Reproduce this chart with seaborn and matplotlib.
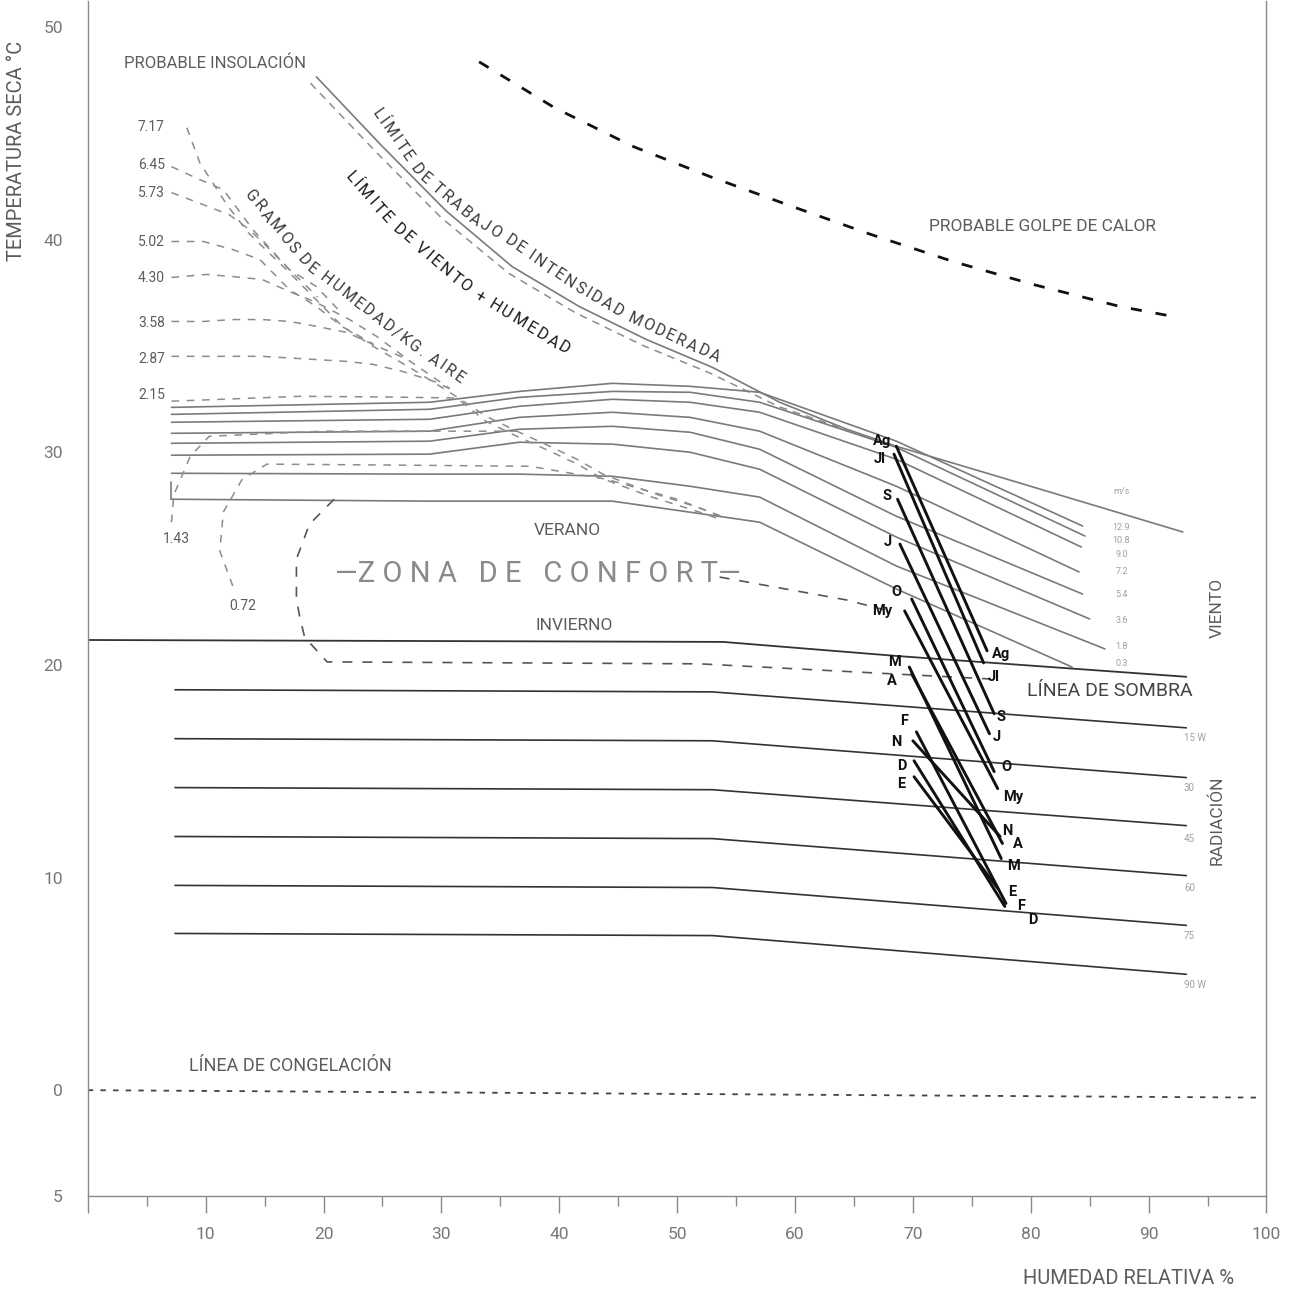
import numpy as np
import matplotlib
matplotlib.use("Agg")
import matplotlib.pyplot as plt
import seaborn as sns
from matplotlib.font_manager import FontProperties
from matplotlib.textpath import TextToPath

# ---------------- data ----------------
# heat stroke limit
golpe_x = [33.2, 39.6, 46.3, 52.8, 59.8, 66.5, 73.4, 80.2, 87.6, 92.5]
golpe_y = [48.36, 46.20, 44.37, 42.96, 41.55, 40.23, 38.97, 37.89, 36.85, 36.34]

# moderate work limit
trabajo_x = [19.4, 24.8, 30.4, 36.0, 41.7, 47.4, 53.0, 58.7, 64.4, 68.6, 77.4, 92.9]
trabajo_y = [47.65, 44.49, 41.35, 38.73, 36.85, 35.30, 33.99, 32.35, 31.08, 30.28, 28.83, 26.25]
trabajo2_x = [18.9, 24.4, 30.0, 35.7, 41.4, 47.1, 52.8, 58.6, 64.4]
trabajo2_y = [47.35, 44.15, 41.02, 38.42, 36.55, 35.02, 33.72, 32.15, 31.05]

# wind lines (m/s)
wind_labels = ["12.9", "10.8", "9.0", "7.2", "5.4", "3.6", "1.8", "0.3"]
wind_x = [7.1, 29.0, 36.6, 44.5, 51.1, 57.0, 68.6]
wind_end_x = [84.4, 84.6, 84.3, 84.1, 84.4, 85.0, 86.3, 83.5]
wind_t = [
    [32.11, 32.35, 32.86, 33.24, 33.10, 32.82, 30.52, 26.53],
    [31.78, 32.02, 32.58, 32.86, 32.82, 32.35, 30.23, 26.06],
    [31.41, 31.55, 32.16, 32.49, 32.35, 31.88, 29.67, 25.54],
    [30.89, 30.99, 31.64, 31.88, 31.64, 30.99, 28.40, 24.37],
    [30.42, 30.52, 31.08, 31.22, 30.94, 30.14, 26.99, 23.33],
    [29.86, 29.91, 30.47, 30.38, 30.00, 29.20, 26.01, 22.16],
    [29.01, 28.97, 28.97, 28.87, 28.40, 27.89, 24.65, 20.75],
    [27.79, 27.70, 27.70, 27.70, 27.18, 26.71, 23.57, 19.90],
]
wind_label_y = [26.48, 25.87, 25.21, 24.37, 23.33, 22.11, 20.85, 20.05]

# radiation lines (W)
rad_labels = ["15 W", "30", "45", "60", "75", "90 W"]
rad_x = [7.4, 53.0, 93.2]
rad_left = [18.83, 16.53, 14.23, 11.93, 9.63, 7.37]
rad_right = [17.04, 14.70, 12.44, 10.09, 7.75, 5.45]
rad_label_y = [16.57, 14.23, 11.83, 9.53, 7.23, 4.93]

# shade line
sombra_x = [0.0, 53.9, 68.6, 93.2]
sombra_y = [21.17, 21.08, 20.42, 19.44]

# freezing line
congel_x = [0.0, 99.7]
congel_y = [0.0, -0.35]

# grams of moisture per kg of air
gramos_labels = ["7.17", "6.45", "5.73", "5.02", "4.30", "3.58", "2.87", "2.15"]
gramos_label_y = [45.3, 43.5, 42.2, 39.9, 38.2, 36.1, 34.4, 32.7]
g717_x = [8.4, 9.5, 11.8, 13.6, 17.1, 21.6, 24.2, 27.3, 30.7, 33.8, 36.4, 39.2, 41.5, 43.7, 47.7, 51.7, 53.9]
g717_y = [45.26, 43.62, 41.64, 40.33, 38.45, 35.92, 34.98, 33.99, 32.82, 31.69, 30.99, 30.28, 29.67, 28.97, 28.12, 27.42, 26.95]
g645_x = [7.1, 9.5, 11.5, 14.0, 17.1, 19.5]
g645_y = [43.43, 42.82, 42.35, 40.47, 38.59, 37.3]
g573_x = [7.1, 9.8, 12.0, 13.7, 15.2, 17.1, 19.4, 21.6]
g573_y = [42.21, 41.64, 41.17, 40.47, 39.67, 38.59, 37.79, 36.5]
g502_x = [7.1, 9.8, 12.3, 14.6, 17.1, 19.4, 21.6, 24.2]
g502_y = [39.91, 39.91, 39.53, 39.06, 37.65, 36.85, 35.9, 35.1]
g430_x = [7.1, 10.1, 12.3, 14.8, 17.1, 19.4, 22.2, 24.5, 27.3]
g430_y = [38.22, 38.36, 38.26, 38.12, 37.56, 37.04, 36.24, 35.45, 34.3]
g358_x = [7.1, 9.8, 12.3, 14.8, 17.1, 19.4, 22.0, 24.2, 27.1, 30.7]
g358_y = [36.15, 36.15, 36.24, 36.24, 36.15, 35.92, 35.63, 35.07, 34.37, 33.0]
g287_x = [7.1, 14.8, 22.0, 24.2, 26.7, 29.6, 31.0]
g287_y = [34.51, 34.51, 34.27, 34.13, 33.80, 33.29, 32.9]
g215_x = [7.1, 18.0, 25.0, 31.3, 33.8, 36.4, 39.2, 41.5, 43.7, 47.7, 51.7, 53.9]
g215_y = [32.40, 32.63, 32.60, 32.55, 31.45, 30.75, 30.05, 29.45, 28.75, 27.92, 27.22, 26.80]
g143_x = [7.1, 7.3, 8.7, 10.3, 20.0, 30.0, 36.4]
g143_y = [26.71, 28.0, 29.81, 30.75, 30.99, 30.99, 30.99]
g072_x = [12.3, 11.2, 11.5, 13.1, 15.2, 25.0, 37.5, 44.0, 50.0, 53.9]
g072_y = [23.71, 25.35, 27.19, 28.73, 29.44, 29.40, 29.34, 28.73, 27.79, 26.95]

# comfort zone dashed outline
confort_x = [20.9, 18.8, 17.7, 17.7, 18.0, 18.4, 20.3, 51.9, 76.5]
confort_y = [27.79, 26.61, 24.97, 23.10, 22.2, 21.3, 20.14, 20.05, 19.34]
confort2_x = [53.6, 64.4, 67.5]
confort2_y = [24.13, 23.05, 22.6]

# monthly climate lines
meses = ["Ag", "Jl", "S", "J", "O", "My", "M", "A", "F", "N", "D", "E"]
mes_x0 = [68.6, 68.4, 68.7, 68.9, 69.9, 69.3, 69.7, 69.9, 70.3, 70.0, 70.1, 70.1]
mes_y0 = [30.28, 29.91, 27.79, 25.68, 23.10, 22.54, 19.90, 19.58, 16.85, 16.43, 15.49, 14.74]
mes_x1 = [76.3, 76.0, 76.9, 76.5, 76.9, 77.2, 77.5, 77.6, 77.9, 77.4, 77.8, 77.2]
mes_y1 = [20.66, 20.09, 17.70, 16.76, 14.98, 14.18, 10.89, 11.60, 8.78, 11.93, 8.64, 9.49]
mes_lab0_x = [67.4, 67.2, 67.8, 67.9, 68.6, 67.4, 68.4, 68.2, 69.3, 68.6, 69.1, 69.0]
mes_lab0_y = [30.52, 29.67, 27.93, 25.77, 23.43, 22.54, 20.14, 19.25, 17.37, 16.39, 15.26, 14.41]
mes_lab1 = ["Ag", "Jl", "S", "J", "O", "My", "N", "A", "M", "E", "F", "D"]
mes_lab1_x = [77.5, 76.9, 77.5, 77.1, 77.9, 78.5, 78.0, 78.9, 78.5, 78.4, 79.2, 80.2]
mes_lab1_y = [20.52, 19.44, 17.56, 16.62, 15.21, 13.80, 12.21, 11.60, 10.52, 9.34, 8.64, 7.98]

# curved label baselines
trabajo_txt_x = [24.6, 28.2, 32.4, 35.8, 40.5, 45.4, 53.4]
trabajo_txt_y = [46.01, 43.19, 41.17, 40.0, 38.22, 36.57, 34.51]
viento_txt_x = [22.4, 26.2, 29.9, 33.1, 36.6, 40.5]
viento_txt_y = [42.96, 40.61, 38.83, 37.42, 36.24, 34.93]
gramos_txt_x = [14.0, 18.8, 28.2, 31.4]
gramos_txt_y = [42.02, 38.83, 34.84, 33.62]

x_ticks = [0, 10, 20, 30, 40, 50, 60, 70, 80, 90, 100]
x_ticklabels = ["", "10", "20", "30", "40", "50", "60", "70", "80", "90", "100"]
y_ticks = [-5, 0, 10, 20, 30, 40, 50]
y_ticklabels = ["5", "0", "10", "20", "30", "40", "50"]

# ---------------- drawing ----------------
sns.set_theme(style="white")
FONT = ["Roboto", "DejaVu Sans"]
plt.rcParams["font.family"] = FONT

GRAY = "#7a7a7a"
LGRAY = "#8c8c8c"
TXT = "#5c5c5c"
DARK = "#333333"

fig = plt.figure(figsize=(12.91, 12.91), dpi=100)
ax = fig.add_axes([0.068, 0.0732, 0.913, 0.9257])
ax.set_xlim(0, 100)
ax.set_ylim(-5, 51.2)


def draw(x, y, color=GRAY, lw=1.2, ls="-"):
    sns.lineplot(x=x, y=y, sort=False, estimator=None, color=color,
                 linewidth=lw, linestyle=ls, ax=ax, legend=False)


def text_on_path(s, px, py, size, color, family=FONT, weight="normal"):
    # lay the characters one by one along a polyline
    fp = FontProperties(family=family, size=size, weight=weight)
    ttp = TextToPath()
    k = fig.dpi / 72.0
    widths = []
    for c in s:
        if c == " ":
            widths.append(0.30 * size * k)
        else:
            widths.append(ttp.get_text_width_height_descent(c, fp, ismath=False)[0] * k
                          + 0.13 * size * k)
    pts = ax.transData.transform(np.column_stack([px, py]))
    seg = np.diff(pts, axis=0)
    seglen = np.hypot(seg[:, 0], seg[:, 1])
    cum = np.concatenate([[0], np.cumsum(seglen)])
    pos = (cum[-1] - sum(widths)) / 2
    inv = ax.transData.inverted()
    for c, w in zip(s, widths):
        d = pos + w / 2
        i = int(np.clip(np.searchsorted(cum, d, side="right") - 1, 0, len(seg) - 1))
        t = (d - cum[i]) / seglen[i]
        p = pts[i] + t * seg[i]
        ang = np.degrees(np.arctan2(seg[i, 1], seg[i, 0]))
        x, y = inv.transform(p)
        ax.text(x, y, c, rotation=ang, rotation_mode="anchor", ha="center",
                va="center_baseline", fontsize=size, color=color, family=family,
                fontweight=weight)
        pos += w


# heat stroke
draw(golpe_x, golpe_y, color="#111111", lw=2.0, ls=(0, (4, 5)))

# work limit, solid + dashed twin
draw(trabajo_x, trabajo_y, color=GRAY, lw=1.2)
draw(trabajo2_x, trabajo2_y, color=LGRAY, lw=1.1, ls=(0, (5, 4)))

# wind lines
for i, t in enumerate(wind_t):
    draw(wind_x + [wind_end_x[i]], t, color=GRAY, lw=1.2)
    ax.text(87.7, wind_label_y[i], wind_labels[i], fontsize=6.5, color="#a0a0a0",
            ha="center", va="center")
draw([7.1, 7.1], [28.6, 27.79], color=GRAY, lw=1.2)
ax.text(87.7, 28.17, "m/s", fontsize=6.5, color="#a0a0a0", ha="center", va="center")

# radiation lines
for i in range(len(rad_left)):
    draw(rad_x, [rad_left[i], rad_left[i] - 0.1, rad_right[i]], color=DARK, lw=1.2)
    ax.text(93.0, rad_label_y[i], rad_labels[i], fontsize=7, color="#a0a0a0",
            ha="left", va="center")

draw(sombra_x, sombra_y, color=DARK, lw=1.3)
draw(congel_x, congel_y, color="#444444", lw=1.3, ls=(0, (3, 4)))

# moisture lines
for gx, gy in [(g717_x, g717_y), (g645_x, g645_y), (g573_x, g573_y), (g502_x, g502_y),
               (g430_x, g430_y), (g358_x, g358_y), (g287_x, g287_y), (g215_x, g215_y),
               (g143_x, g143_y), (g072_x, g072_y)]:
    draw(gx, gy, color=LGRAY, lw=1.1, ls=(0, (5, 5)))
for lab, ly in zip(gramos_labels, gramos_label_y):
    ax.text(5.4, ly, lab, fontsize=10, color=TXT, ha="center", va="center")
ax.text(7.5, 25.92, "1.43", fontsize=10, color=TXT, ha="center", va="center")
ax.text(13.1, 22.77, "0.72", fontsize=10, color=TXT, ha="center", va="center")

# comfort zone outline
draw(confort_x, confort_y, color="#555555", lw=1.2, ls=(0, (6, 6)))
draw(confort2_x, confort2_y, color="#555555", lw=1.2, ls=(0, (6, 6)))

# months
for i in range(len(meses)):
    draw([mes_x0[i], mes_x1[i]], [mes_y0[i], mes_y1[i]], color="#111111", lw=2.1)
    ax.text(mes_lab0_x[i], mes_lab0_y[i], meses[i], fontsize=10.5, color="#111111",
            ha="center", va="center", fontweight="bold")
    ax.text(mes_lab1_x[i], mes_lab1_y[i], mes_lab1[i], fontsize=10.5, color="#111111",
            ha="center", va="center", fontweight="bold")

# labels
ax.text(3.1, 48.31, "PROBABLE INSOLACIÓN", fontsize=12, color=TXT, ha="left", va="center")
ax.text(81.0, 40.6, "PROBABLE GOLPE DE CALOR", fontsize=12.5, color=TXT, ha="center", va="center")
ax.text(17.2, 1.13, "LÍNEA DE CONGELACIÓN", fontsize=13, color=TXT, ha="center", va="center")
ax.text(86.7, 18.78, "LÍNEA DE SOMBRA", fontsize=14, color="#444444", ha="center",
        va="center")
ax.text(40.7, 26.3, "VERANO", fontsize=12.5, color=TXT, ha="center", va="center")
ax.text(41.3, 21.83, "INVIERNO", fontsize=12.5, color=TXT, ha="center", va="center")
ax.text(38.2, 24.27, "—Z O N A   D E   C O N F O R T—", fontsize=21, color="#8a8a8a",
        ha="center", va="center")
ax.text(95.8, 22.7, "VIENTO", fontsize=12.5, color=TXT, rotation=90, ha="center", va="center")
ax.text(95.8, 12.68, "RADIACIÓN", fontsize=12.5, color=TXT, rotation=90, ha="center", va="center")

text_on_path("LÍMITE DE TRABAJO DE INTENSIDAD MODERADA", trabajo_txt_x, trabajo_txt_y,
             11.5, "#3a3a3a")
text_on_path("LÍMITE DE VIENTO + HUMEDAD", viento_txt_x, viento_txt_y, 12, "#1a1a1a")
text_on_path("GRAMOS DE HUMEDAD/KG. AIRE", gramos_txt_x, gramos_txt_y, 11.5, "#3a3a3a")

# axes styling
for side in ["left", "bottom", "right"]:
    ax.spines[side].set_color("#8a8a8a")
    ax.spines[side].set_linewidth(1.0)
ax.spines["top"].set_visible(False)

ax.set_xticks(x_ticks)
ax.set_xticklabels(x_ticklabels)
ax.set_xticks([5, 15, 25, 35, 45, 55, 65, 75, 85, 95], minor=True)
ax.tick_params(axis="x", which="major", direction="out", length=12, width=1,
               color="#8a8a8a", labelsize=12.5, labelcolor="#777777", pad=10, bottom=True)
ax.tick_params(axis="x", which="minor", direction="out", length=7, width=1,
               color="#8a8a8a", bottom=True)
ax.set_yticks(y_ticks)
ax.set_yticklabels(y_ticklabels)
ax.tick_params(axis="y", length=0, labelsize=12.5, labelcolor="#777777", pad=18)
ax.set_xlabel("")
ax.set_ylabel("")
ax.grid(False)

fig.text(0.013, 0.883, "TEMPERATURA SECA °C", rotation=90, fontsize=14.5, color=TXT,
         ha="center", va="center")
fig.text(0.874, 0.010, "HUMEDAD RELATIVA %", fontsize=14.5, color=TXT, ha="center",
         va="center")

fig.savefig("out.png", dpi=100, facecolor="white")
